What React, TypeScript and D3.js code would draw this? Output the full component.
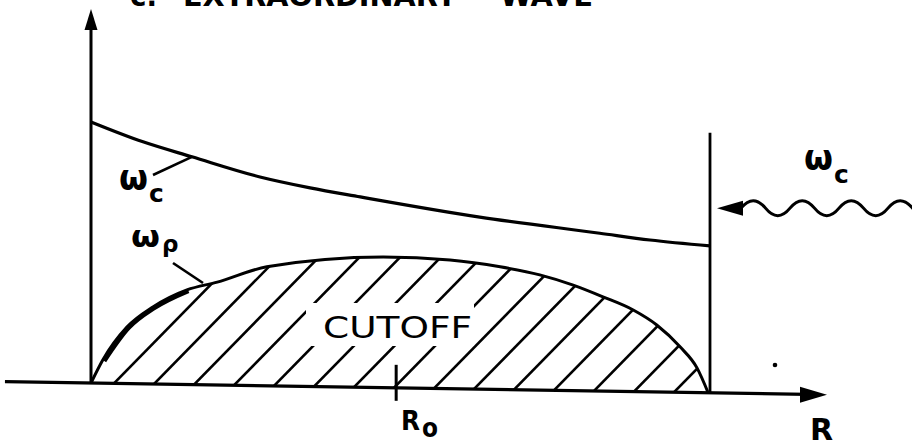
import React from "react";
import * as d3 from "d3";

// ---- data (R across the plasma, 0..100 ; frequency, 0..100) ----
const radiusWc = [0, 8.4, 16.3, 27.3, 35.4, 43.5, 62.8, 82.2, 90.3, 100];
const omegaC = [69.8, 64.7, 60.9, 55.8, 53.1, 50.9, 46.0, 42.2, 40.6, 39.3];

const radiusWp = [0, 1.9, 5.8, 10.0, 15.5, 20.4, 28.4, 47.2, 58.0, 66.1, 72.5, 77.9, 82.7, 87.6, 91.4, 95.2, 97.9, 99.7];
const omegaP = [0, 6.2, 15.1, 20.6, 25.3, 27.5, 31.8, 34.9, 34.4, 32.8, 30.8, 28.2, 25.2, 21.8, 17.9, 12.1, 6.6, 0];

const R0 = 49.3;
const wallR = 100;
const wallTop = 69.5;
const axisRExtent = [-13.9, 118.9];
const axisOmegaTop = 100;
const incomingOmega = 49.4;

const titleWords = ["c.", "EXTRAORDINARY", "WAVE"];
const cutoffLabel = "CUTOFF";

const FONT = "'DejaVu Sans', 'Liberation Sans', sans-serif";

export default function App() {
  const ORIGIN_X = 91;
  const ORIGIN_Y = 383;
  const SKEW = 0.0158;
  const x = d3.scaleLinear().domain([0, 100]).range([0, 619]);
  const y = d3.scaleLinear().domain([0, 100]).range([0, -374]);
  const sx = (r: number) => ORIGIN_X + x(r);
  const sy = (r: number, w: number) => ORIGIN_Y + y(w) + SKEW * x(r);

  const wcPts = radiusWc.map((r, i) => [r, omegaC[i]] as [number, number]);
  const wpPts = radiusWp.map((r, i) => [r, omegaP[i]] as [number, number]);

  const line = d3
    .line<[number, number]>()
    .x((d) => sx(d[0]))
    .y((d) => sy(d[0], d[1]))
    .curve(d3.curveMonotoneX);

  const area = d3
    .area<[number, number]>()
    .x((d) => sx(d[0]))
    .y0((d) => sy(d[0], 0))
    .y1((d) => sy(d[0], d[1]))
    .curve(d3.curveMonotoneX);

  // hatch lines
  const hatch: string[] = [];
  const slope = 1.02;
  for (let fx = 74; fx < 720; fx += 40) {
    const by = ORIGIN_Y + SKEW * (fx - ORIGIN_X);
    const x1 = fx - 60, y1 = by + 60 * slope;
    const x2 = fx + 260, y2 = by - 260 * slope;
    hatch.push(`M${x1},${y1}L${x2},${y2}`);
  }

  const axL = sx(axisRExtent[0]);
  const axR = sx(axisRExtent[1]);
  const ayL = sy(axisRExtent[0], 0);
  const ayR = sy(axisRExtent[1], 0);

  const yTop = sy(0, axisOmegaTop);

  // incoming wave (symbol)
  const tipX = sx(wallR) + 7;
  const tipY = sy(wallR + 1.1, incomingOmega);
  const headBase = tipX + 26;
  const h = 24.5;
  const amp = 7.5;
  let wave = `M${headBase - 2},${tipY} Q${headBase - 2 + h / 2},${tipY - 2 * amp} ${headBase - 2 + h},${tipY}`;
  for (let i = 2; i <= 9; i++) wave += ` T${headBase - 2 + i * h},${tipY}`;

  const stroke = "#000";

  return (
    <svg width={912} height={445} style={{ display: "block", position: "absolute", left: 0, top: 0, background: "#fff" }}>
      <defs>
        <clipPath id="wpClip">
          <path d={area(wpPts) || ""} />
        </clipPath>
      </defs>
      <rect x={0} y={0} width={912} height={445} fill="#fff" />

      {/* title (cut off at top in the reference) */}
      <g fontFamily={FONT} fontWeight="bold" fontSize={28} fill="#000">
        <text x={130} y={6} textLength={27} lengthAdjust="spacingAndGlyphs">{titleWords[0]}</text>
        <text x={183} y={6} textLength={274} lengthAdjust="spacingAndGlyphs">{titleWords[1]}</text>
        <text x={500} y={6} textLength={93} lengthAdjust="spacingAndGlyphs">{titleWords[2]}</text>
      </g>

      {/* hatched cutoff region */}
      <g clipPath="url(#wpClip)">
        {hatch.map((d, i) => (
          <path key={i} d={d} stroke={stroke} strokeWidth={2.6} fill="none" />
        ))}
      </g>
      <rect x={306} y={303} width={168} height={43} fill="#fff" />
      <text x={323} y={338} fontFamily={FONT} fontSize={31} textLength={149} lengthAdjust="spacingAndGlyphs">{cutoffLabel}</text>

      {/* omega_p curve */}
      <path d={line(wpPts) || ""} stroke={stroke} strokeWidth={3} fill="none" />
      <path d={line(wpPts.slice(1, 5)) || ""} stroke={stroke} strokeWidth={4.5} fill="none" transform="translate(1.5,1)" />
      {/* omega_c curve */}
      <path d={line(wcPts) || ""} stroke={stroke} strokeWidth={3.2} fill="none" />

      {/* vertical axis */}
      <line x1={sx(0)} y1={sy(0, 0)} x2={sx(0)} y2={yTop + 18} stroke={stroke} strokeWidth={3} />
      <path d={`M${sx(0)},${yTop} L${sx(0) - 6.5},${yTop + 21} L${sx(0) + 6.5},${yTop + 21} Z`} fill={stroke} />

      {/* horizontal R axis */}
      <line x1={axL} y1={ayL} x2={axR - 20} y2={ayR - 0.3} stroke={stroke} strokeWidth={3.2} />
      <path d={`M${axR},${ayR} L${axR - 27},${ayR - 8} L${axR - 27},${ayR + 8} Z`} fill={stroke} />

      {/* wall */}
      <line x1={sx(wallR)} y1={sy(wallR, 0)} x2={sx(wallR)} y2={sy(wallR, wallTop)} stroke={stroke} strokeWidth={2.8} />

      {/* R0 tick */}
      <line x1={sx(R0)} y1={sy(R0, 0) - 23} x2={sx(R0)} y2={sy(R0, 0) + 13} stroke={stroke} strokeWidth={3} />

      {/* incoming wave */}
      <path d={`M${tipX},${tipY} L${headBase},${tipY - 7.5} L${headBase},${tipY + 7.5} Z`} fill={stroke} />
      <path d={wave} stroke={stroke} strokeWidth={3} fill="none" />

      {/* leaders */}
      <line x1={153} y1={175} x2={sx(16.3)} y2={sy(16.3, 60.9)} stroke={stroke} strokeWidth={2.6} />
      <line x1={173} y1={263} x2={203} y2={283} stroke={stroke} strokeWidth={2.6} />

      {/* labels */}
      <g fontFamily={FONT} fill="#000" fontWeight="bold">
        <text x={119} y={190} fontSize={35} textLength={29} lengthAdjust="spacingAndGlyphs">ω</text>
        <text x={149} y={202} fontSize={25}>c</text>
        <text x={131} y={247} fontSize={30} textLength={29} lengthAdjust="spacingAndGlyphs">ω</text>
        <text x={162} y={252} fontSize={23}>ρ</text>
        <text x={804} y={170} fontSize={35} textLength={29} lengthAdjust="spacingAndGlyphs">ω</text>
        <text x={834} y={183} fontSize={25}>c</text>
        <text x={401} y={430} fontSize={27} textLength={19} lengthAdjust="spacingAndGlyphs">R</text>
        <text x={422} y={437} fontSize={26} textLength={16} lengthAdjust="spacingAndGlyphs">o</text>
        <text x={810} y={440} fontSize={30}>R</text>
      </g>
      <circle cx={775} cy={365} r={2.3} fill="#000" />
    </svg>
  );
}
